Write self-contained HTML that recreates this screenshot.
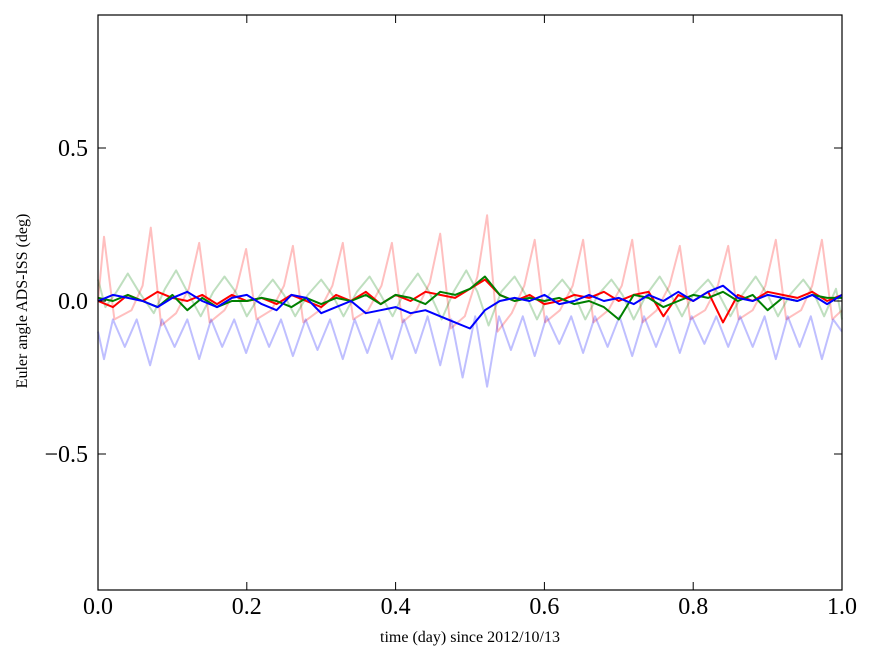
<!DOCTYPE html>
<html><head><meta charset="utf-8"><style>
html,body{margin:0;padding:0;background:#fff;}
svg text{font-family:"Liberation Serif",serif;}
</style></head><body>
<svg id="chart" width="875" height="662" xmlns="http://www.w3.org/2000/svg">
<rect x="0" y="0" width="875" height="662" fill="#fff"/>
<g id="series"></g>
<rect x="98" y="15" width="744" height="575" fill="none" stroke="#000" stroke-width="1.2"/>
<g id="ticks"></g>
<text x="470" y="642" font-size="16" text-anchor="middle">time (day) since 2012/10/13</text>
<text x="0" y="0" font-size="16" text-anchor="middle" transform="translate(27,301) rotate(-90)">Euler angle ADS-ISS (deg)</text>
</svg>
<script>
const xTicks=[0,0.2,0.4,0.6,0.8,1.0];
const xTickLabels=["0.0","0.2","0.4","0.6","0.8","1.0"];
const yTicks=[-0.5,0,0.5];
const yTickLabels=["\u22120.5","0.0","0.5"];

const pinkT=[0.0,0.008,0.022,0.045,0.06,0.071,0.085,0.105,0.122,0.136,0.15,0.17,0.186,0.199,0.213,0.233,0.25,0.262,0.276,0.298,0.315,0.329,0.343,0.363,0.381,0.395,0.409,0.428,0.446,0.46,0.474,0.493,0.51,0.523,0.537,0.556,0.573,0.587,0.601,0.621,0.638,0.652,0.666,0.686,0.704,0.718,0.732,0.751,0.768,0.782,0.796,0.816,0.833,0.847,0.861,0.88,0.897,0.911,0.925,0.945,0.96,0.973,0.987,1.0];
const pinkV=[0.0,0.21,-0.06,-0.03,0.05,0.24,-0.08,-0.04,0.04,0.19,-0.07,-0.03,0.04,0.17,-0.06,-0.03,0.05,0.18,-0.07,-0.03,0.05,0.19,-0.06,-0.03,0.05,0.19,-0.07,-0.03,0.06,0.22,-0.09,-0.05,0.08,0.28,-0.1,-0.04,0.05,0.2,-0.07,-0.03,0.05,0.2,-0.07,-0.03,0.05,0.2,-0.07,-0.03,0.05,0.18,-0.06,-0.03,0.05,0.18,-0.06,-0.03,0.05,0.2,-0.06,-0.03,0.05,0.2,-0.06,-0.03];

const lblueT=[0.0,0.008,0.02,0.036,0.052,0.07,0.086,0.103,0.12,0.136,0.152,0.167,0.183,0.199,0.215,0.23,0.246,0.262,0.279,0.295,0.312,0.329,0.345,0.362,0.378,0.395,0.411,0.427,0.443,0.46,0.475,0.49,0.507,0.523,0.539,0.555,0.571,0.587,0.603,0.62,0.636,0.652,0.668,0.685,0.701,0.718,0.734,0.75,0.766,0.782,0.798,0.815,0.831,0.847,0.863,0.88,0.896,0.911,0.927,0.943,0.958,0.973,0.988,1.0];
const lblueV=[-0.1,-0.19,-0.06,-0.15,-0.06,-0.21,-0.06,-0.15,-0.06,-0.19,-0.06,-0.15,-0.06,-0.17,-0.06,-0.15,-0.06,-0.18,-0.06,-0.16,-0.06,-0.19,-0.06,-0.17,-0.06,-0.19,-0.06,-0.17,-0.05,-0.21,-0.06,-0.25,-0.05,-0.28,-0.05,-0.16,-0.05,-0.18,-0.05,-0.14,-0.05,-0.17,-0.05,-0.15,-0.05,-0.18,-0.05,-0.15,-0.05,-0.17,-0.05,-0.14,-0.05,-0.15,-0.05,-0.15,-0.05,-0.19,-0.05,-0.15,-0.05,-0.19,-0.06,-0.1];

const lgreenT=[0.0,0.01,0.025,0.04,0.055,0.075,0.09,0.105,0.12,0.138,0.155,0.17,0.185,0.2,0.218,0.235,0.25,0.265,0.282,0.3,0.315,0.33,0.348,0.365,0.38,0.396,0.412,0.43,0.445,0.462,0.478,0.495,0.51,0.525,0.542,0.56,0.575,0.59,0.606,0.624,0.64,0.655,0.672,0.69,0.705,0.72,0.737,0.755,0.77,0.785,0.8,0.82,0.835,0.85,0.866,0.884,0.9,0.914,0.93,0.948,0.963,0.976,0.992,1.0];
const lgreenV=[0.07,-0.02,0.03,0.09,0.03,-0.04,0.04,0.1,0.03,-0.05,0.03,0.08,0.03,-0.05,0.02,0.07,0.02,-0.05,0.02,0.07,0.02,-0.05,0.03,0.08,0.02,-0.05,0.03,0.09,0.03,-0.06,0.03,0.1,0.03,-0.08,0.03,0.08,0.02,-0.06,0.02,0.07,0.02,-0.06,0.02,0.07,0.02,-0.06,0.02,0.08,0.02,-0.05,0.02,0.07,0.02,-0.05,0.02,0.08,0.02,-0.05,0.02,0.07,0.02,-0.05,0.04,-0.06];

const darkT=[0,0.02,0.04,0.06,0.08,0.1,0.12,0.14,0.16,0.18,0.2,0.22,0.24,0.26,0.28,0.3,0.32,0.34,0.36,0.38,0.4,0.42,0.44,0.46,0.48,0.5,0.52,0.54,0.56,0.58,0.6,0.62,0.64,0.66,0.68,0.7,0.72,0.74,0.76,0.78,0.8,0.82,0.84,0.86,0.88,0.9,0.92,0.94,0.96,0.98,1.0];
const redV=[0.0,-0.02,0.02,0.0,0.03,0.01,0.0,0.02,-0.01,0.02,0.0,0.01,-0.01,0.02,0.0,-0.02,0.02,0.0,0.03,-0.01,0.02,0.0,0.03,0.02,0.01,0.04,0.07,0.02,0.0,0.02,-0.01,0.0,0.02,0.01,0.03,0.0,0.02,0.03,-0.05,0.02,0.0,0.03,-0.07,0.02,0.0,0.03,0.02,0.01,0.03,0.0,0.02];
const greenV=[0.01,0.0,0.02,0.0,-0.02,0.02,-0.03,0.01,-0.02,0.0,0.0,0.01,0.0,-0.02,0.01,-0.01,0.01,0.0,0.02,-0.01,0.02,0.01,-0.01,0.03,0.02,0.04,0.08,0.02,0.0,0.01,0.0,0.01,-0.01,0.0,-0.02,-0.06,0.02,0.01,-0.02,0.0,0.02,0.01,0.03,0.0,0.02,-0.03,0.01,0.0,0.02,0.01,0.01];
const blueV=[0.0,0.02,0.01,0.0,-0.02,0.01,0.03,0.0,-0.02,0.01,0.02,-0.01,-0.03,0.02,0.01,-0.04,-0.02,0.0,-0.04,-0.03,-0.02,-0.04,-0.03,-0.05,-0.07,-0.09,-0.03,0.0,0.01,0.0,0.02,-0.01,0.0,0.02,0.0,0.01,-0.01,0.02,0.0,0.03,0.0,0.03,0.05,0.01,0.0,0.02,0.01,0.0,0.02,-0.01,0.02];

const X0=98,X1=842,Y0=301,PPU=306;
function sx(v){return X0+(X1-X0)*v;}
function sy(v){return Y0-PPU*v;}
const NS="http://www.w3.org/2000/svg";
const g=document.getElementById('series');
function line(ts,vs,color,op,w,name){
  const p=document.createElementNS(NS,'polyline');
  p.setAttribute('points',ts.map((t,i)=>sx(t).toFixed(1)+','+sy(vs[i]).toFixed(1)).join(' '));
  p.setAttribute('fill','none');p.setAttribute('stroke',color);
  p.setAttribute('stroke-opacity',op);p.setAttribute('stroke-width',w);
  p.setAttribute('stroke-linejoin','round');
  
  
  g.appendChild(p);
}
line(pinkT,pinkV,'#ff0000',0.25,2,'faint-red-series');
line(lgreenT,lgreenV,'#008000',0.25,2,'faint-green-series');
line(lblueT,lblueV,'#0000ff',0.25,2,'faint-blue-series');
line(darkT,redV,'#ff0000',1,2,'red-series');
line(darkT,greenV,'#008000',1,2,'green-series');
line(darkT,blueV,'#0000ff',1,2,'blue-series');

const tg=document.getElementById('ticks');
function el(tag,attrs){const e=document.createElementNS(NS,tag);for(const k in attrs)e.setAttribute(k,attrs[k]);tg.appendChild(e);return e;}
xTicks.forEach((v,i)=>{
  const x=sx(v);
  const a=el('line',{x1:x,x2:x,y1:590,y2:582,stroke:'#000'});
  
  
  const b=el('line',{x1:x,x2:x,y1:15,y2:23,stroke:'#000'});
  
  
  const t=el('text',{x:x,y:614,'font-size':24,'text-anchor':'middle'});
  t.textContent=xTickLabels[i];
  
  
});
yTicks.forEach((v,i)=>{
  const y=sy(v);
  const a=el('line',{x1:98,x2:106,y1:y,y2:y,stroke:'#000'});
  
  
  const b=el('line',{x1:834,x2:842,y1:y,y2:y,stroke:'#000'});
  
  
  const t=el('text',{x:88,y:y+8,'font-size':24,'text-anchor':'end'});
  t.textContent=yTickLabels[i];
  
  
});
</script>
</body></html>
